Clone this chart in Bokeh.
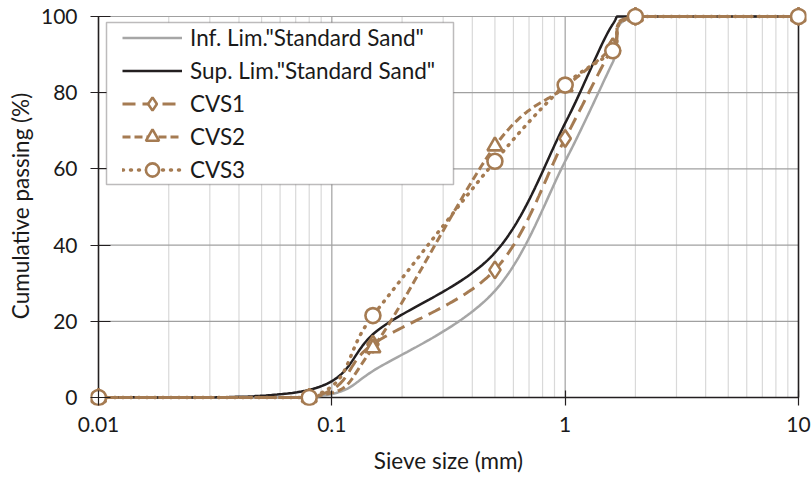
import numpy as np
from bokeh.plotting import figure
from bokeh.models import FixedTicker, PrintfTickFormatter, Legend, LegendItem, BoxAnnotation
from bokeh.embed import file_html
from bokeh.resources import INLINE

# ---- data ----
sieve = [0.01, 0.08, 0.15, 0.5, 1.0, 1.6, 2.0, 10.0]
lim_sieve = [0.01, 0.08, 0.16, 0.5, 1.0, 1.6, 2.0, 10.0]
inf_lim = [0, 0, 8, 28, 62, 88, 100, 100]
sup_lim = [0, 2, 18, 38, 72, 98, 100, 100]
cvs1 = [0, 0, 14, 33.5, 68, 92, 100, 100]
cvs2 = [0, 0, 13, 66, 81.5, 92, 100, 100]
cvs3 = [0, 0, 21.5, 62, 82, 91, 100, 100]
x_ticks = [0.01, 0.1, 1, 10]
y_ticks = [0, 20, 40, 60, 80, 100]

BROWN = "#A57B52"
GRAY = "#A6A6A6"
BLACK = "#231F20"
FONT = "Lato"

# ---- layout (pixels) ----
W, H = 812, 478
X0, X1 = 98, 798      # pixel of 0.01 and 10
Y0, Y1 = 397, 16      # pixel of 0 and 100
PAD = 8               # frame margin so edge markers are not clipped
FL, FR, FT, FB = X0 - PAD, X1 + PAD, Y1 - 10, Y0 + PAD
lx0, lx1 = np.log10(x_ticks[0]), np.log10(x_ticks[-1])
ppd = (X1 - X0) / (lx1 - lx0)
ppu = (Y0 - Y1) / (y_ticks[-1] - y_ticks[0])


def px2x(px):
    return 10 ** (lx0 + (px - X0) / ppd)


def px2y(py):
    return y_ticks[0] + (Y0 - py) / ppu


def smooth(xs, ys, n=40):
    """Catmull-Rom (Excel-like) smoothing in (log10 x, y) space."""
    u = np.log10(np.asarray(xs, float))
    v = np.asarray(ys, float)
    P = np.column_stack([u, v])
    P = np.vstack([P[0], P, P[-1]])
    out = []
    for i in range(1, len(P) - 2):
        p0, p1, p2, p3 = P[i - 1], P[i], P[i + 1], P[i + 2]
        c1 = p1 + (p2 - p0) / 6.0
        c2 = p2 - (p3 - p1) / 6.0
        t = np.linspace(0, 1, n)[:, None]
        seg = ((1 - t) ** 3) * p1 + 3 * ((1 - t) ** 2) * t * c1 + 3 * (1 - t) * t ** 2 * c2 + t ** 3 * p2
        out.append(seg if i == 1 else seg[1:])
    S = np.vstack(out)
    return 10 ** S[:, 0], np.clip(S[:, 1], v.min(), v.max())


p = figure(width=W, height=H, x_axis_type="log",
           x_range=(px2x(FL), px2x(FR)), y_range=(px2y(FB), px2y(FT)),
           output_backend="svg", toolbar_location=None,
           min_border_left=FL, min_border_right=W - FR, min_border_top=FT, min_border_bottom=H - FB)
p.outline_line_color = None
p.xgrid.visible = False
p.ygrid.visible = False

minor = [m * d for d in x_ticks[:-1] for m in range(2, 10)]
p.xaxis.ticker = FixedTicker(ticks=x_ticks)
p.yaxis.ticker = FixedTicker(ticks=y_ticks)
p.xaxis.formatter = PrintfTickFormatter(format="%g")

for ax in (p.xaxis[0], p.yaxis[0]):
    ax.axis_line_color = None
    ax.major_tick_line_color = BLACK
    ax.major_tick_line_width = 1.2
    ax.major_tick_out = 0
    ax.minor_tick_line_color = None
    ax.major_label_text_font = FONT
    ax.major_label_text_font_size = "21px"
    ax.major_label_text_color = "#1a1a1a"
    ax.axis_label_text_font = FONT
    ax.axis_label_text_font_size = "22.5px"
    ax.axis_label_text_font_style = "normal"
    ax.axis_label_text_color = "#1a1a1a"
p.xaxis.major_tick_in = 15
p.yaxis.major_tick_in = 20

p.xaxis.axis_label = "Sieve size (mm)"
p.yaxis.axis_label = "Cumulative passing (%)"
p.xaxis.major_label_standoff = 11
p.yaxis.major_label_standoff = 13
p.xaxis.axis_label_standoff = 12
p.yaxis.axis_label_standoff = 4

# grid lines, bounded to the data area
ymin, ymax = y_ticks[0], y_ticks[-1]
xmin, xmax = x_ticks[0], x_ticks[-1]
p.segment(x0=minor, y0=ymin, x1=minor, y1=ymax, line_color="#D9D9D9", line_width=1.2)
p.segment(x0=x_ticks[1:-1], y0=ymin, x1=x_ticks[1:-1], y1=ymax, line_color="#A0A0A0", line_width=1.2)
p.segment(x0=xmin, y0=y_ticks[1:], x1=xmax, y1=y_ticks[1:], line_color="#A0A0A0", line_width=1.2)
# axis lines and right border line
p.segment(x0=[xmin, xmin, xmax], y0=[ymin, ymin, ymin], x1=[xmax, xmin, xmax], y1=[ymin, ymax, ymax],
          line_color=BLACK, line_width=1.6)

items = []
xs, ys = smooth(lim_sieve, inf_lim)
r = p.line(xs, ys, line_color=GRAY, line_width=2.5)
items.append(LegendItem(label='Inf. Lim."Standard Sand"', renderers=[r]))
xs, ys = smooth(lim_sieve, sup_lim)
r = p.line(xs, ys, line_color=BLACK, line_width=2.5)
items.append(LegendItem(label='Sup. Lim."Standard Sand"', renderers=[r]))

specs = [("CVS1", cvs1, "13 7", "diamond", 17, 3, "butt"),
         ("CVS2", cvs2, "8 4", "triangle", 15, 3, "butt"),
         ("CVS3", cvs3, "1 7", "circle", 15, 3.5, "round")]
for name, vals, dash, marker, size, lw, cap in specs:
    xs, ys = smooth(sieve, vals)
    rl = p.line(xs, ys, line_color=BROWN, line_width=lw, line_dash=dash, line_cap=cap)
    rm = p.scatter(sieve, vals, marker=marker, size=size, line_color=BROWN, line_width=2.6,
                   fill_color="white")
    items.append(LegendItem(label=name, renderers=[rl, rm]))

# legend box
p.add_layout(BoxAnnotation(left=px2x(106), right=px2x(453), top=px2y(22), bottom=px2y(184),
                           fill_color="white", fill_alpha=1, line_color=BLACK, line_width=1.5))

LPAD, LH, LSP = 0, 33, 0
leg_h = 2 * LPAD + 5 * LH + 4 * LSP
ROW1 = 37.7
legend = Legend(items=items, location=(122 - LPAD - FL, FB - (ROW1 - LPAD - LH / 2) - leg_h))
legend.margin = 0
legend.padding = LPAD
legend.spacing = LSP
legend.glyph_width = 60
legend.glyph_height = LH
legend.label_height = LH
legend.label_standoff = 8
legend.label_text_font = FONT
legend.label_text_font_size = "22.5px"
legend.label_text_color = "#1a1a1a"
legend.border_line_color = None
legend.background_fill_alpha = 0
p.add_layout(legend, "center")

open("out.html", "w").write(file_html(p, INLINE))
